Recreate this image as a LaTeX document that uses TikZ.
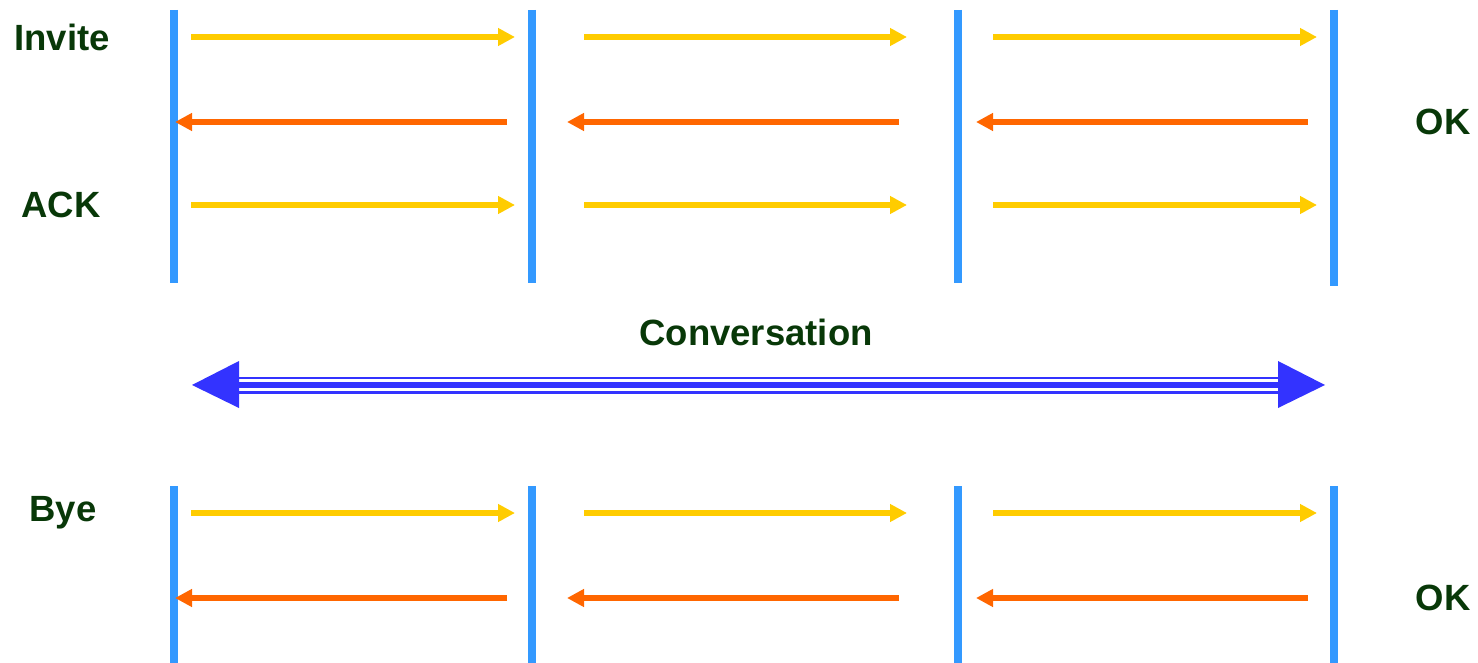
\documentclass[tikz,border=0pt]{standalone}
\usepackage{fontspec}
\setmainfont{Liberation Sans}
\usetikzlibrary{arrows.meta}
\definecolor{lifeblue}{HTML}{3399FF}
\definecolor{reqyellow}{HTML}{FFCC00}
\definecolor{resporange}{HTML}{FF6600}
\definecolor{convblue}{HTML}{3333FF}
\definecolor{labelgreen}{RGB}{8,56,8}
\tikzset{
  lifeline/.style={draw=lifeblue, line width=8pt},
  request/.style={draw=reqyellow, line width=6.5pt, -{Triangle[length=17pt,width=17pt]}},
  response/.style={draw=resporange, line width=6.5pt, -{Triangle[length=17pt,width=17pt]}},
  msglabel/.style={text=labelgreen, font=\bfseries\fontsize{36.5}{40}\selectfont, inner sep=0pt},
}
\begin{document}
\begin{tikzpicture}[x=1pt,y=-1pt]
\useasboundingbox (0,0) rectangle (1478,663);

% lifelines, call setup
\foreach \n/\x/\b in {a/174/283, b/532/283, c/958/283, d/1334/286}{
  \coordinate (\n top) at (\x,10);
  \coordinate (\n bot) at (\x,\b);
  \draw[lifeline] (\n top) -- (\n bot);
}
% lifelines, call teardown
\foreach \n/\x in {a/174, b/532, c/958, d/1334}{
  \coordinate (\n top2) at (\x,486);
  \coordinate (\n bot2) at (\x,663);
  \draw[lifeline] (\n top2) -- (\n bot2);
}

% requests travelling right
\foreach \y/\r in {37/inv, 205/ack, 513/bye}{
  \foreach \s/\e/\k in {191/515/1, 584/907/2, 993/1317/3}{
    \coordinate (\r s\k) at (\s,\y);
    \coordinate (\r e\k) at (\e,\y);
    \draw[request] (\r s\k) -- (\r e\k);
  }
}
% responses travelling left
\foreach \y/\r in {122/ok, 598/okb}{
  \foreach \s/\e/\k in {507/175/1, 899/567/2, 1308/976/3}{
    \coordinate (\r s\k) at (\s,\y);
    \coordinate (\r e\k) at (\e,\y);
    \draw[response] (\r s\k) -- (\r e\k);
  }
}

% labels
\node[msglabel] (invite) at (62,37) {Invite};
\node[msglabel] (ack) at (61,205) {ACK};
\node[msglabel] (ok1) at (1443,122) {OK};
\node[msglabel] (bye) at (63,513) {Bye};
\node[msglabel] (ok2) at (1443,598) {OK};
\node[msglabel] (conv) at (756,332) {Conversation};

% conversation: triple-line shaft with heads at both ends
\coordinate (convL) at (192,385);
\coordinate (convR) at (1325,385);
\coordinate (convLb) at (239,385);
\coordinate (convRb) at (1278,385);
\draw[convblue, line width=17pt] (convLb) -- (convRb);
\draw[white, line width=12.5pt] (convLb) -- (convRb);
\draw[convblue, line width=6pt] (convLb) -- (convRb);
\fill[convblue] (convL) -- (239,361) -- (239,408) -- cycle;
\fill[convblue] (convR) -- (1278,361) -- (1278,408) -- cycle;
\end{tikzpicture}
\end{document}
